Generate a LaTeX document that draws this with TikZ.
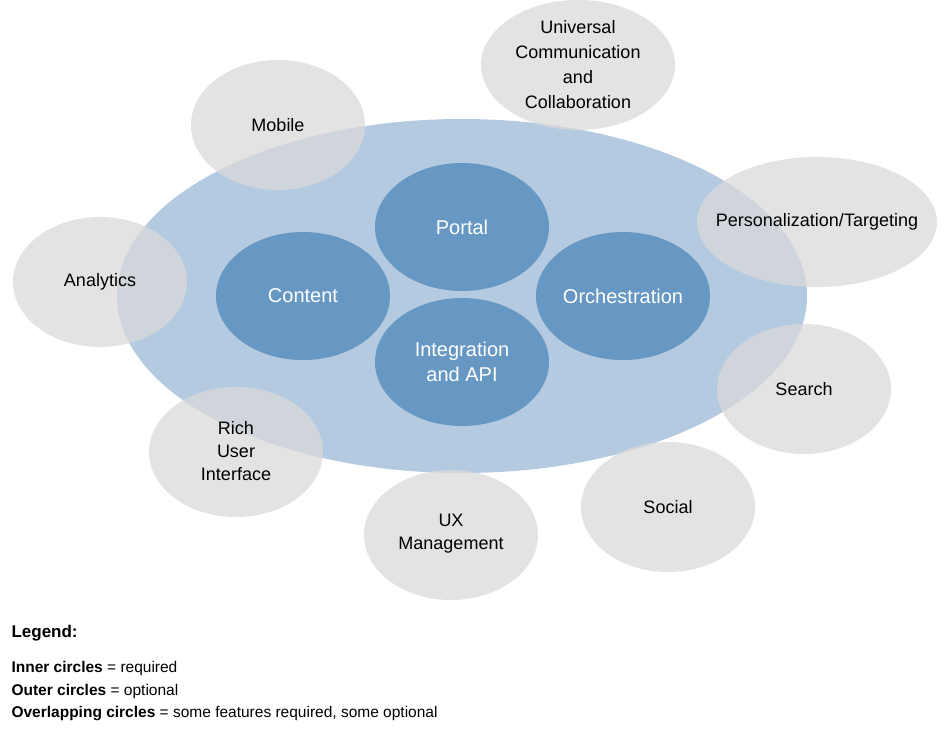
\documentclass[tikz,border=0pt]{standalone}
\usepackage{fontspec}
\setmainfont{Liberation Sans}
\begin{document}
\begin{tikzpicture}[x=1pt,y=-1pt,
  outer/.style={fill=gray!30,fill opacity=0.75,text opacity=1,font=\fontsize{18}{22}\selectfont,align=center},
  inner/.style={fill=innerblue,text=white,font=\fontsize{20}{24}\selectfont,align=center},
  leg/.style={anchor=west,font=\fontsize{15.5}{18}\selectfont}]
\definecolor{bigblue}{HTML}{B3CAE0}
\definecolor{innerblue}{HTML}{6797C3}
\useasboundingbox (0,0) rectangle (947,737);
\fill[bigblue] (462,296) ellipse [x radius=345, y radius=177];
\coordinate (big) at (462,296);
\foreach \n/\x/\y/\rx in {mob/278/125/87, uni/578/65/97, per/817/222/120, ana/100/282/87, sea/804/389/87, soc/668/507/87, ux/451/535/87, rich/236/452/87}
  \fill[gray!30,fill opacity=0.75] (\x,\y) ellipse [x radius=\rx, y radius=65];
\node[font=\fontsize{18}{22}\selectfont] (mobt) at (278,125) {Mobile};
\node[font=\fontsize{18}{25}\selectfont,align=center] (unit) at (578,65) {Universal\\Communication\\and\\Collaboration};
\node[font=\fontsize{18}{22}\selectfont] (pert) at (817,222) {Personalization/Targeting};
\node[font=\fontsize{18}{22}\selectfont] (anat) at (100,282) {Analytics};
\node[font=\fontsize{18}{22}\selectfont] (seat) at (804,389) {Search};
\node[font=\fontsize{18}{22}\selectfont] (soct) at (668,507) {Social};
\node[font=\fontsize{18}{23}\selectfont,align=center] (uxt) at (451,534) {UX\\Management};
\node[font=\fontsize{18}{23}\selectfont,align=center] (richt) at (236,451) {Rich\\User\\Interface};
\foreach \x/\y in {462/227, 303/296, 623/296, 462/362}
  \fill[innerblue] (\x,\y) ellipse [x radius=87, y radius=64];
\node[text=white,font=\fontsize{20}{24}\selectfont] (portal) at (462,227) {Portal};
\node[text=white,font=\fontsize{20}{24}\selectfont] (content) at (303,296) {Content};
\node[text=white,font=\fontsize{20}{24}\selectfont] (orch) at (623,296) {Orchestration};
\node[text=white,font=\fontsize{20}{25}\selectfont,align=center] (integ) at (462,362) {Integration\\and API};
\node[leg,font=\bfseries\fontsize{17}{20}\selectfont] (l0) at (8,633) {Legend:};
\node[leg] (l1) at (8,668) {\textbf{Inner circles} = required};
\node[leg] (l2) at (8,691) {\textbf{Outer circles} = optional};
\node[leg] (l3) at (8,714) {\textbf{Overlapping circles} = some features required, some optional};
\end{tikzpicture}
\end{document}
